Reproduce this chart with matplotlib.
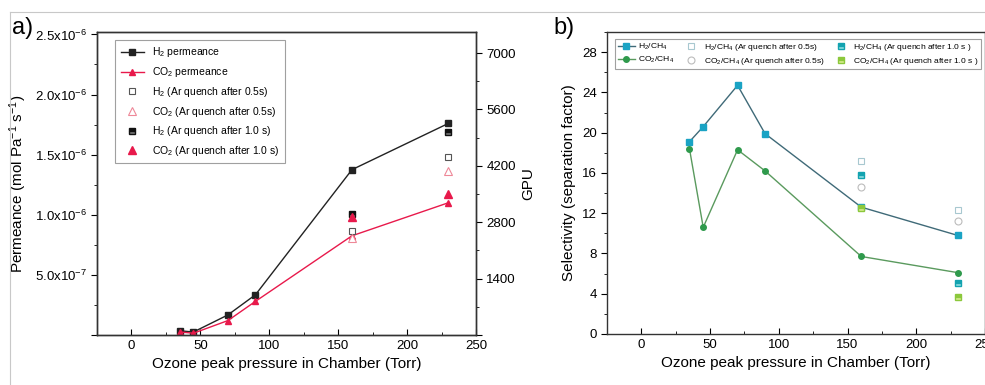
import matplotlib
matplotlib.use("Agg")
import matplotlib.pyplot as plt
import matplotlib.ticker as mticker
from matplotlib.lines import Line2D
import numpy as np

plt.rcParams['font.family'] = ['Liberation Sans', 'DejaVu Sans']
plt.rcParams['mathtext.fontset'] = 'custom'
plt.rcParams['mathtext.rm'] = 'Liberation Sans'
plt.rcParams['mathtext.it'] = 'Liberation Sans'

# pressure points (Torr)
pressure = [35, 45, 70, 90, 160, 230]
quench_p = [160, 230]

# panel a) permeance (mol Pa-1 s-1)
h2_perm = [3.5e-8, 2.5e-8, 1.67e-7, 3.35e-7, 1.375e-6, 1.76e-6]
co2_perm = [2.5e-8, 1.5e-8, 1.2e-7, 2.8e-7, 8.25e-7, 1.10e-6]
h2_q05 = [8.65e-7, 1.48e-6]
co2_q05 = [8.1e-7, 1.36e-6]
h2_q10 = [1.01e-6, 1.69e-6]
co2_q10 = [9.8e-7, 1.17e-6]
gpu_factor = 3.35e-10  # mol m-2 s-1 Pa-1 per GPU

# panel b) selectivity
h2_ch4 = [19.1, 20.6, 24.7, 19.9, 12.6, 9.8]
co2_ch4 = [18.4, 10.6, 18.3, 16.2, 7.7, 6.1]
h2_ch4_q05 = [17.2, 12.3]
co2_ch4_q05 = [14.6, 11.2]
h2_ch4_q10 = [15.8, 5.1]
co2_ch4_q10 = [12.5, 3.65]

fig = plt.figure(figsize=(9.85, 3.85), dpi=100)

# thin frame lines of the original picture
fig.add_artist(Line2D([10 / 985, 1], [1 - 12 / 385, 1 - 12 / 385], color='#c8c8c8', lw=0.8))
fig.add_artist(Line2D([10 / 985, 10 / 985], [0, 1 - 12 / 385], color='#c8c8c8', lw=0.8))

ax1 = fig.add_axes([97 / 985, 50 / 385, 379 / 985, 303 / 385])
ax2 = fig.add_axes([607 / 985, 51 / 385, 378 / 985, 302 / 385])

# ---- panel a ----
ax1.plot(pressure, h2_perm, color='#222222', lw=1, marker='s', ms=4, label='H$_2$ permeance')
ax1.plot(pressure, co2_perm, color='#e8194b', lw=1, marker='^', ms=4.5, label='CO$_2$ permeance')
ax1.plot(quench_p, h2_q05, ls='', marker='s', ms=5, mfc='white', mec='#555555', mew=0.8,
         label='H$_2$ (Ar quench after 0.5s)')
ax1.plot(quench_p, co2_q05, ls='', marker='^', ms=6, mfc='white', mec='#ee8898', mew=0.8,
         label='CO$_2$ (Ar quench after 0.5s)')
ax1.plot(quench_p, h2_q10, ls='', marker='s', ms=5, color='#111111', fillstyle='top',
         markerfacecoloralt='#777777', label='H$_2$ (Ar quench after 1.0 s)')
ax1.plot(quench_p, co2_q10, ls='', marker='^', ms=6, color='#e8194b', fillstyle='full',
         label='CO$_2$ (Ar quench after 1.0 s)')

ax1.set_xlim(-25, 250)
ax1.set_ylim(0, 2.52e-6)
ax1.xaxis.set_major_locator(mticker.MultipleLocator(50))
ax1.xaxis.set_minor_locator(mticker.MultipleLocator(25))
ax1.yaxis.set_major_locator(mticker.MultipleLocator(5e-7))
ax1.yaxis.set_minor_locator(mticker.MultipleLocator(2.5e-7))


def perm_fmt(v, pos):
    if v <= 0:
        return ''
    exp = int(np.floor(np.log10(v) + 1e-9))
    return r'%.1fx10$^{%d}$' % (v / 10 ** exp, exp)


ax1.yaxis.set_major_formatter(mticker.FuncFormatter(perm_fmt))
ax1.set_xlabel('Ozone peak pressure in Chamber (Torr)', fontsize=11)
ax1.set_ylabel('Permeance (mol Pa$^{-1}$ s$^{-1}$)', fontsize=11)
ax1.tick_params(axis='x', direction='in', labelsize=9.5, length=4)
ax1.tick_params(axis='x', which='minor', direction='in', length=2.5)
ax1.tick_params(axis='y', direction='out', labelsize=9.5, length=4)
ax1.tick_params(axis='y', which='minor', direction='out', length=2.5)

ax1r = ax1.twinx()
ax1r.set_ylim(0, 2.52e-6 / gpu_factor)
ax1r.yaxis.set_major_locator(mticker.MultipleLocator(1400))
ax1r.yaxis.set_minor_locator(mticker.MultipleLocator(700))
ax1r.yaxis.set_major_formatter(mticker.FuncFormatter(lambda v, p: '' if v <= 0 else '%d' % v))
ax1r.set_ylabel('GPU', fontsize=11)
ax1r.tick_params(axis='y', direction='out', labelsize=9.5, length=4)
ax1r.tick_params(axis='y', which='minor', direction='out', length=2.5)

leg1 = ax1.legend(loc='upper left', bbox_to_anchor=(0.035, 0.99), fontsize=7.5, frameon=True,
                  fancybox=False, edgecolor='#888888', handlelength=2.2, labelspacing=0.55,
                  borderpad=0.5)
leg1.get_frame().set_linewidth(0.8)

for sp in list(ax1.spines.values()) + list(ax1r.spines.values()):
    sp.set_linewidth(1.0)
    sp.set_color('#333333')

# ---- panel b ----
ax2.plot(pressure, h2_ch4, color='#3f6a78', lw=1, marker='s', ms=4, mfc='#1aa3c4', mec='#1aa3c4',
         label='H$_2$/CH$_4$')
ax2.plot(pressure, co2_ch4, color='#5a9a5e', lw=1, marker='o', ms=4, mfc='#2f9a4c', mec='#2f9a4c',
         label='CO$_2$/CH$_4$')
ax2.plot(quench_p, h2_ch4_q05, ls='', marker='s', ms=5, mfc='white', mec='#a8c8d0', mew=0.8,
         label='H$_2$/CH$_4$ (Ar quench after 0.5s)')
ax2.plot(quench_p, co2_ch4_q05, ls='', marker='o', ms=5, mfc='white', mec='#bcbcbc', mew=0.8,
         label='CO$_2$/CH$_4$ (Ar quench after 0.5s)')
ax2.plot(quench_p, h2_ch4_q10, ls='', marker='s', ms=4.5, color='#13a3b0', fillstyle='top',
         markerfacecoloralt='#8fdde0', label='H$_2$/CH$_4$ (Ar quench after 1.0 s )')
ax2.plot(quench_p, co2_ch4_q10, ls='', marker='s', ms=4.5, color='#8cc83c', fillstyle='top',
         markerfacecoloralt='#d8ec90', label='CO$_2$/CH$_4$ (Ar quench after 1.0 s )')

ax2.set_xlim(-25, 250)
ax2.set_ylim(0, 30)
ax2.xaxis.set_major_locator(mticker.MultipleLocator(50))
ax2.xaxis.set_minor_locator(mticker.MultipleLocator(25))
ax2.yaxis.set_major_locator(mticker.MultipleLocator(4))
ax2.yaxis.set_minor_locator(mticker.MultipleLocator(2))
ax2.set_xlabel('Ozone peak pressure in Chamber (Torr)', fontsize=11)
ax2.set_ylabel('Selectivity (separation factor)', fontsize=11)
ax2.tick_params(axis='x', direction='in', labelsize=9.5, length=4)
ax2.tick_params(axis='x', which='minor', direction='in', length=2.5)
ax2.tick_params(axis='y', direction='out', labelsize=9.5, length=4)
ax2.tick_params(axis='y', which='minor', direction='out', length=2.5)
for sp in ax2.spines.values():
    sp.set_linewidth(1.0)
    sp.set_color('#333333')

leg2 = ax2.legend(loc='upper left', bbox_to_anchor=(0.01, 0.99), ncol=3, fontsize=6.1, frameon=True,
                  fancybox=False, edgecolor='#888888', handlelength=2.0, columnspacing=1.0,
                  labelspacing=0.35, borderpad=0.3, handletextpad=0.45)
leg2.get_frame().set_linewidth(0.8)

# panel labels
fig.text(12 / 985, 1 - 28 / 385, 'a)', fontsize=17, va='center', ha='left')
fig.text(553 / 985, 1 - 28 / 385, 'b)', fontsize=17, va='center', ha='left')

fig.savefig('out.png', dpi=100)
